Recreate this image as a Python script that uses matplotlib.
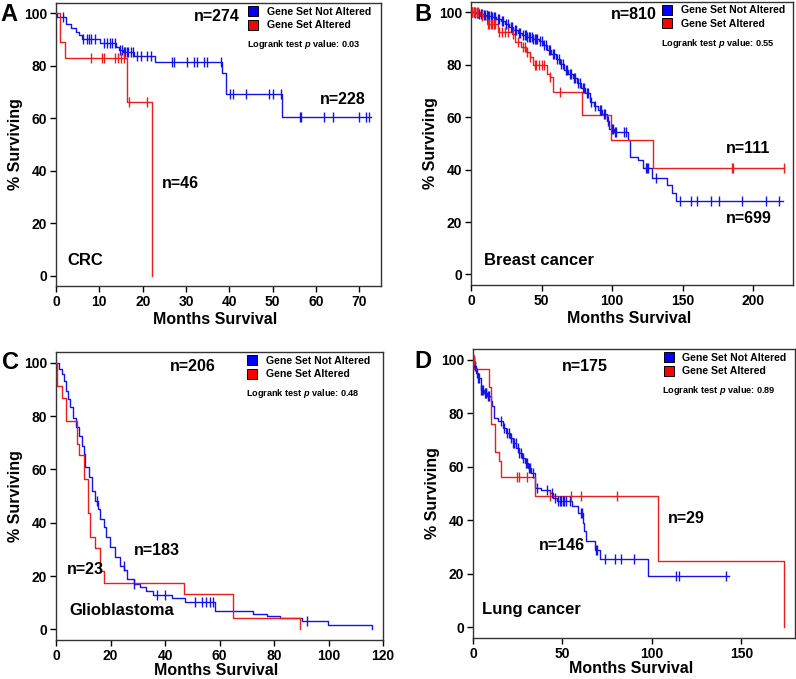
import numpy as np
import matplotlib
matplotlib.use('Agg')
import matplotlib.pyplot as plt
from matplotlib.lines import Line2D

plt.rcParams['font.family'] = ['Liberation Sans', 'DejaVu Sans']
plt.rcParams['font.weight'] = 'bold'
plt.rcParams['mathtext.fontset'] = 'custom'
plt.rcParams['mathtext.it'] = 'Liberation Sans:italic:bold'
plt.rcParams['mathtext.rm'] = 'Liberation Sans:bold'

BLUE = '#1414e6'
RED = '#ee1c1c'

# ---- A: CRC ----
a_blue_t = [0, 0.3, 2.2, 3.5, 4.5, 5.2, 6.0, 10.2, 13.9, 14.5, 15.5, 17.9, 22.9, 38.3, 39.2, 52.1, 72.7]
a_blue_s = [100, 98.6, 96.0, 94.5, 93.0, 91.6, 90.1, 88.7, 87.1, 86.1, 85.4, 83.9, 81.6, 77.4, 69.3, 60.5, 60.5]
a_blue_c = [1.5, 6.3, 7.2, 7.6, 8.0, 9.0, 11.0, 11.8, 12.4, 12.9, 13.5, 14.8, 15.3, 15.6, 16.0,
            16.3, 16.7, 17.2, 17.7, 18.7, 19.5, 21.0, 21.8, 26.8, 27.3, 30.2, 31.8, 32.6, 34.1,
            34.9, 38.0, 40.1, 40.8, 43.9, 49.1, 50.0, 51.8, 56.2, 56.5, 61.9, 63.9, 70.0, 71.5, 72.2]
a_red_t = [0, 1.0, 2.1, 16.4, 22.2]
a_red_s = [100, 89.2, 83.0, 66.3, 0]
a_red_c = [8.0, 10.6, 11.0, 13.5, 14.2, 15.0, 15.6, 16.8, 21.0]

# ---- B: Breast cancer ----
b_blue_t = [0, 3, 6, 9, 12, 15, 18, 21, 24, 27, 30, 33, 36, 40, 44, 48, 51, 54, 57, 60, 63, 66,
            69, 72, 75, 78, 81, 84, 87, 90, 93, 96, 98, 101, 111.5, 112.5, 118.6, 121.5, 128.3,
            139, 142.5, 145.2, 220.6]
b_blue_s = [100, 99.8, 99.5, 99.2, 98.8, 98.3, 97.4, 96.6, 95.5, 94.4, 93.2, 92.3, 91.5, 90.7,
            90.0, 89.2, 87.6, 85.5, 84.0, 82.2, 80.2, 78.2, 76.4, 74.8, 73.0, 71.3, 69.2, 66.0,
            64.3, 62.8, 61.2, 58.5, 55.7, 54.4, 51.3, 44.9, 43.7, 40.5, 37.0, 34.2, 31.0, 28.2, 28.2]
b_blue_c = [1, 2, 3, 4, 5, 6, 7, 8, 9, 10, 11, 12, 13, 14, 15, 16, 17, 19, 20, 22, 23, 25, 26,
            28, 29, 31, 32, 34, 35, 37, 38, 39, 40, 41, 42, 43, 44, 45, 46, 47, 49, 50, 52, 53,
            55, 56, 58, 59, 61, 62, 64, 65, 67, 68, 70, 71, 73, 74, 76, 77, 79, 80, 82, 83, 85,
            88, 91, 92, 94, 95, 97, 99.5, 100.5, 102, 103, 108, 110, 124, 124.8, 125.5, 131,
            148.3, 155.9, 160.1, 170.1, 175.3, 191.9, 209.2, 218]
b_red_t = [0, 6.4, 11, 18.9, 28.7, 31, 35.6, 39.1, 41.5, 43.9, 53.6, 55.8, 58.4, 78.6, 99.2, 128.6, 221.4]
b_red_s = [100, 98.7, 95.6, 92.4, 91.8, 88.6, 86.7, 84.8, 82.9, 80.0, 76.6, 75.3, 69.5, 61.0, 51.3, 40.5, 40.5]
b_red_c = [1, 2, 3, 4, 5, 8, 12, 13, 14, 15, 16, 17, 20, 22, 24, 26, 30, 33, 37, 38, 40, 42,
           45, 46, 48, 50, 52, 56, 63.3, 184.6, 185.8, 221.4]

# ---- C: Glioblastoma ----
c_blue_t = [0, 1.0, 2.2, 3.1, 3.7, 4.3, 5.3, 6.2, 7.5, 8.3, 9.5, 10.4, 10.8, 12.0, 13.2, 14.2,
            15.3, 16.3, 17.5, 18.5, 19.9, 21.8, 23.6, 25.1, 26.1, 28.5, 30.9, 33.0, 35.5, 42.6,
            47.4, 58.5, 72.3, 77.4, 82.3, 90.3, 99.8, 116]
c_blue_s = [100, 97.5, 95.6, 93.1, 89.4, 86.3, 83.2, 79.4, 75.7, 72.6, 68.8, 65.7, 60.7, 57.0,
            52.0, 48.3, 45.1, 41.4, 38.3, 34.5, 30.8, 27.1, 23.9, 22.1, 19.0, 17.1, 15.8, 14.5,
            12.7, 11.9, 10.2, 6.8, 5.9, 4.9, 4.2, 3.0, 1.5, 0]
c_blue_c = [15.0, 25.0, 28.5, 37.0, 40.1, 51.1, 53.6, 55.2, 56.4, 57.6, 92.1]
c_red_t = [0, 0.4, 2.2, 3.8, 7.7, 8.6, 10.2, 11.6, 12.4, 14.4, 16.3, 17.5, 46.9, 64.8, 89.7]
c_red_s = [100, 91.3, 86.9, 78.3, 69.6, 65.2, 56.5, 43.5, 34.8, 30.4, 21.7, 17.4, 13.1, 4.4, 0]
c_red_c = []

# ---- D: Lung cancer ----
d_blue_t = [0, 0.5, 0.9, 1.9, 2.8, 4.3, 6.2, 8.0, 9.9, 10.6, 11.8, 14.0, 16.8, 18.7, 20.5, 22.4,
            24.3, 25.6, 27.5, 29.0, 30.8, 32.3, 34.6, 34.9, 38.3, 43.0, 44.8, 46.7, 55.5, 58.8,
            61.5, 62.3, 63.3, 68.3, 71.1, 97.7, 143]
d_blue_s = [100, 99.3, 97.5, 95.0, 93.2, 88.8, 87.5, 86.3, 84.4, 82.6, 78.2, 77.0, 74.5, 72.6,
            70.7, 68.9, 67.0, 65.1, 63.3, 61.4, 59.5, 57.7, 56.4, 52.1, 51.4, 50.2, 48.3, 47.1,
            45.2, 42.7, 39.0, 35.9, 32.1, 29.0, 25.5, 19.1, 19.1]
d_blue_c = [0.5, 1.2, 2.0, 3.0, 3.5, 4.5, 5.0, 5.5, 6.5, 7.0, 7.5, 8.5, 9.2, 15.5, 17.5, 19.0,
            20.0, 21.5, 22.5, 23.0, 24.0, 25.0, 26.0, 27.0, 28.0, 29.5, 30.0, 31.5, 32.0, 33.5,
            36.0, 41.3, 44.1, 46.0, 47.6, 48.5, 49.3, 50.2, 51.0, 52.0, 54.3, 60.3, 61.0, 68.6,
            69.6, 73.9, 79.6, 82.7, 90.2, 113.7, 115.0, 141.2]
d_red_t = [0, 0.8, 8.8, 10.0, 12.5, 14.5, 15.8, 34.4, 103.3, 173.9]
d_red_s = [100, 96.6, 89.7, 76.0, 65.5, 62.1, 56.3, 48.9, 24.7, 0]
d_red_c = [0.3, 0.6, 24.5, 25.8, 30.4, 43.3, 54.7, 60.5, 80.6]

panels = [
    dict(letter='A', rect=[0.0704, 0.5788, 0.4083, 0.4168], xmax=75, xticks=np.arange(0, 71, 10),
         blue=(a_blue_t, a_blue_s, a_blue_c), red=(a_red_t, a_red_s, a_red_c),
         n_total='n=274', n_tot_pos=(0.425, 0.954), pval='0.03',
         n_labels=[('n=228', 60.8, 67.2), ('n=46', 24.5, 35.2)],
         name='CRC', name_pos=(2.6, 2.9), leg_x=0.588, let_pos=(0.0, 0.978), xlab_y=-0.12),
    dict(letter='B', rect=[0.5917, 0.5803, 0.4045, 0.4168], xmax=228, xticks=np.arange(0, 201, 50),
         blue=(b_blue_t, b_blue_s, b_blue_c), red=(b_red_t, b_red_s, b_red_c),
         n_total='n=810', n_tot_pos=(0.435, 0.954), pval='0.55',
         n_labels=[('n=111', 180.6, 47.9), ('n=699', 180.6, 21.4)],
         name='Breast cancer', name_pos=(9.3, 2.5), leg_x=0.590, let_pos=(0.521, 0.978), xlab_y=-0.12),
    dict(letter='C', rect=[0.0704, 0.0574, 0.4108, 0.4242], xmax=120, xticks=np.arange(0, 121, 20),
         blue=(c_blue_t, c_blue_s, c_blue_c), red=(c_red_t, c_red_s, c_red_c),
         n_total='n=206', n_tot_pos=(0.349, 0.949), pval='0.48',
         n_labels=[('n=183', 28.4, 29.6), ('n=23', 4.1, 22.4)],
         name='Glioblastoma', name_pos=(4.9, 4.2), leg_x=0.580, let_pos=(0.0025, 0.466), xlab_y=-0.105),
    dict(letter='D', rect=[0.5942, 0.0604, 0.4045, 0.4256], xmax=180, xticks=np.arange(0, 151, 50),
         blue=(d_blue_t, d_blue_s, d_blue_c), red=(d_red_t, d_red_s, d_red_c),
         n_total='n=175', n_tot_pos=(0.276, 0.939), pval='0.89',
         n_labels=[('n=29', 108.7, 40.5), ('n=146', 36.8, 30.5)],
         name='Lung cancer', name_pos=(5.2, 3.7), leg_x=0.588, let_pos=(0.521, 0.467), xlab_y=-0.105),
]


def km(ax, t, s, cens, color):
    t = np.asarray(t, float)
    s = np.asarray(s, float)
    ax.step(t, s, where='post', color=color, lw=1.0, zorder=3)
    if len(cens):
        cens = np.asarray(cens, float)
        idx = np.searchsorted(t, cens, side='right') - 1
        ax.plot(cens, s[idx], ls='none', marker='|', ms=7, mew=1.0, color=color, zorder=4)


fig = plt.figure(figsize=(7.96, 6.79), dpi=100)

for p in panels:
    ax = fig.add_axes(p['rect'])
    km(ax, *p['blue'], BLUE)
    km(ax, *p['red'], RED)
    ax.set_xlim(0, p['xmax'])
    ax.set_ylim(-4, 104)
    ax.set_xticks(p['xticks'])
    ax.set_yticks(np.arange(0, 101, 20))
    ax.tick_params(direction='out', length=4.5, width=1, pad=2, labelsize=10, colors='black')
    for sp in ax.spines.values():
        sp.set_color('#333333')
        sp.set_linewidth(1)
    ax.set_xlabel('Months Survival', fontsize=11.5, fontweight='bold')
    ax.xaxis.label.set_va('center')
    ax.xaxis.set_label_coords(0.49, p['xlab_y'])
    ax.set_ylabel('% Surviving', fontsize=11.5, fontweight='bold')
    ax.yaxis.label.set_va('center')
    ax.yaxis.set_label_coords(-0.125, 0.5)

    handles = [Line2D([], [], ls='none', marker='s', ms=7, mfc='#0000ff', mec='black', mew=0.7),
               Line2D([], [], ls='none', marker='s', ms=7, mfc='#ff0000', mec='black', mew=0.7)]
    ax.legend(handles, ['Gene Set Not Altered', 'Gene Set Altered'], loc='upper left',
              bbox_to_anchor=(p['leg_x'], 0.995), frameon=False, borderaxespad=0, borderpad=0.2,
              handlelength=0.8, handletextpad=0.9, labelspacing=0.35,
              prop={'weight': 'bold', 'size': 7.6})
    ax.text(p['leg_x'], 0.855, r'Logrank test $\it{p}$ value: ' + p['pval'], transform=ax.transAxes,
            fontsize=6.6, fontweight='bold', ha='left', va='center')
    ax.text(*p['n_tot_pos'], p['n_total'], transform=ax.transAxes, fontsize=11.5,
            fontweight='bold', ha='left', va='center')
    for lab, x, y in p['n_labels']:
        ax.text(x, y, lab, fontsize=11.5, fontweight='bold', ha='left', va='center')
    ax.text(*p['name_pos'], p['name'], fontsize=12, fontweight='bold', ha='left', va='bottom')
    fig.text(*p['let_pos'], p['letter'], fontsize=17, fontweight='bold', ha='left', va='center')

fig.savefig('out.png', dpi=100)
